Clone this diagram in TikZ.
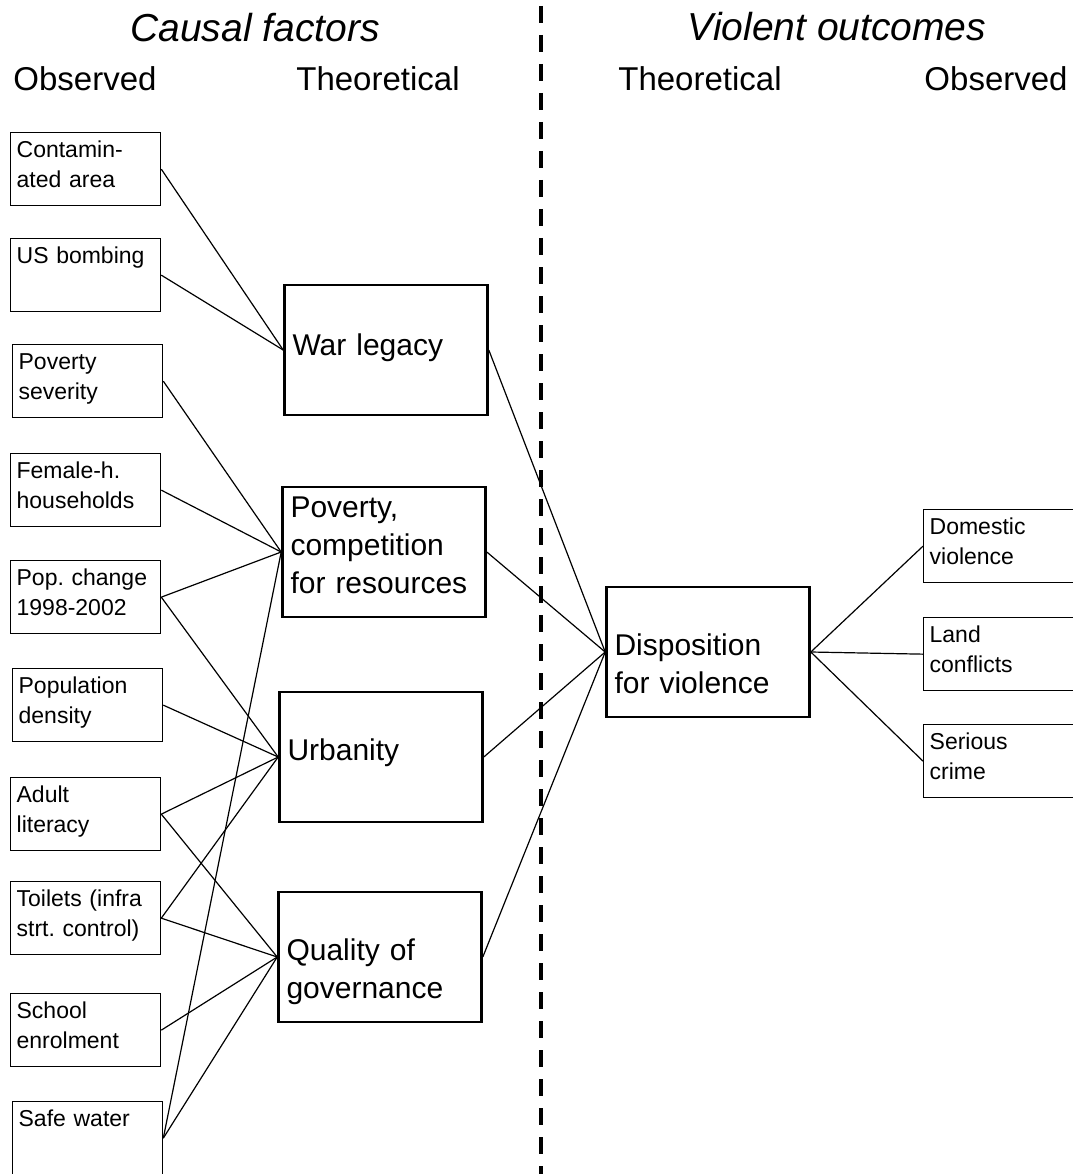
\documentclass[tikz,border=0pt]{standalone}
\usepackage{fontspec}
\setmainfont{Liberation Sans}
\usepackage{tikz}
\usetikzlibrary{positioning}
\frenchspacing

\begin{document}
\begin{tikzpicture}[x=1pt, y=-1pt,
    obsbox/.style={draw, line width=1.3pt, anchor=north west, align=left,
      text width=138pt, inner xsep=6pt, inner ysep=0pt,
      text height=25pt, text depth=48pt, font=\fontsize{23}{30}\selectfont},
    theobox/.style={draw, line width=2.6pt, align=left, text width=187pt,
      inner xsep=8pt, minimum height=130pt, text height=40pt, text depth=34pt,
      font=\fontsize{30}{38}\selectfont},
    colhead/.style={anchor=base, font=\fontsize{33}{38}\selectfont},
    sidehead/.style={anchor=base, font=\fontsize{39}{45}\selectfont\itshape},
    link/.style={line width=1.2pt}]
  \useasboundingbox (0,0) rectangle (1072,1174);

  % headings
  \node[sidehead] (causal) at (255,42) {Causal factors};
  \node[sidehead] (violent) at (837,41) {Violent outcomes};
  \node[colhead] (obsL) at (85,91) {Observed};
  \node[colhead] (theoL) at (378,91) {Theoretical};
  \node[colhead] (theoR) at (700,91) {Theoretical};
  \node[colhead] (obsR) at (996,91) {Observed};

  % divider
  \draw[line width=4pt, dash pattern=on 17pt off 12pt] (541,6) -- (541,1180);

  % observed causal factors
  \node[obsbox] (contam) at (10,132) {Contamin-\\ated area};
  \node[obsbox] (bombing) at (10,238) {US bombing};
  \node[obsbox] (povsev) at (12,344) {Poverty\\severity};
  \node[obsbox] (female) at (10,453) {Female-h.\\households};
  \node[obsbox] (popchg) at (10,560) {Pop. change\\1998-2002};
  \node[obsbox] (popden) at (12,668) {Population\\density};
  \node[obsbox] (literacy) at (10,777) {Adult\\literacy};
  \node[obsbox] (toilets) at (10,881) {Toilets (infra\\strt. control)};
  \node[obsbox] (school) at (10,993) {School\\enrolment};
  \node[obsbox] (water) at (12,1101) {Safe water};

  % theoretical constructs
  \node[theobox, text depth=30pt] (war) at (386,350) {War legacy};
  \node[theobox, text height=20pt, text depth=90pt] (poverty) at (384,552)
    {Poverty,\\competition\\for resources};
  \node[theobox] (urban) at (381,757) {Urbanity};
  \node[theobox] (govern) at (380,957) {Quality of\\governance};
  \node[theobox] (dispo) at (708,652) {Disposition\\for violence};

  % observed outcomes
  \node[obsbox] (domestic) at (923,509) {Domestic\\violence};
  \node[obsbox] (land) at (923,617) {Land\\conflicts};
  \node[obsbox] (crime) at (923,724) {Serious\\crime};

  % links
  \draw[link] (contam.east) -- (war.west);
  \draw[link] (bombing.east) -- (war.west);
  \draw[link] (povsev.east) -- (poverty.west);
  \draw[link] (female.east) -- (poverty.west);
  \draw[link] (popchg.east) -- (poverty.west);
  \draw[link] (popchg.east) -- (urban.west);
  \draw[link] (popden.east) -- (urban.west);
  \draw[link] (literacy.east) -- (urban.west);
  \draw[link] (literacy.east) -- (govern.west);
  \draw[link] (toilets.east) -- (urban.west);
  \draw[link] (toilets.east) -- (govern.west);
  \draw[link] (school.east) -- (govern.west);
  \draw[link] (water.east) -- (poverty.west);
  \draw[link] (water.east) -- (govern.west);

  \draw[link] (war.east) -- (dispo.west);
  \draw[link] (poverty.east) -- (dispo.west);
  \draw[link] (urban.east) -- (dispo.west);
  \draw[link] (govern.east) -- (dispo.west);

  \draw[link] (dispo.east) -- (domestic.west);
  \draw[link] (dispo.east) -- (land.west);
  \draw[link] (dispo.east) -- (crime.west);
\end{tikzpicture}
\end{document}
